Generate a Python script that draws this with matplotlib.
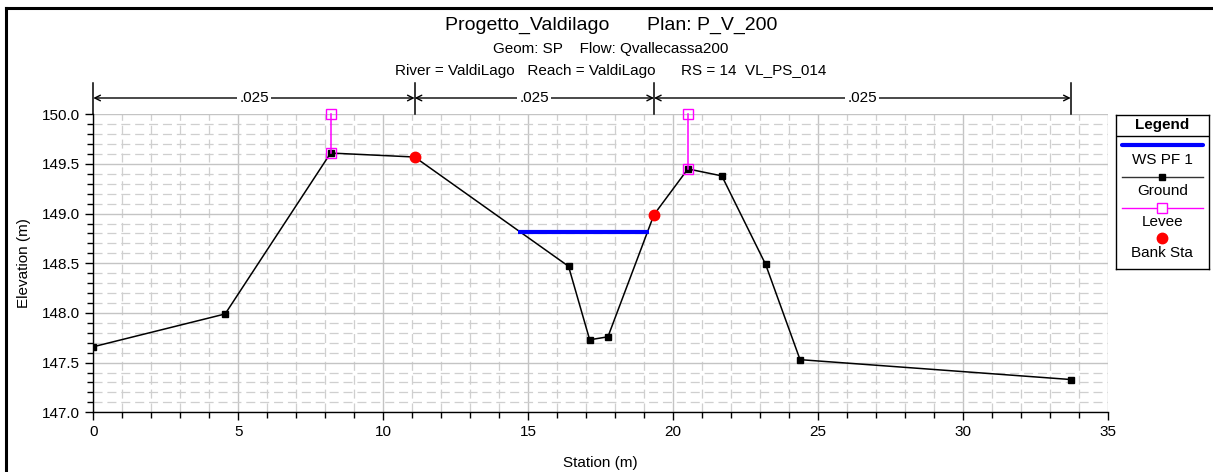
import matplotlib
matplotlib.use("Agg")
import matplotlib.pyplot as plt
from matplotlib.lines import Line2D
from matplotlib.ticker import MultipleLocator, FormatStrFormatter

plt.rcParams['font.family'] = ['Liberation Sans', 'DejaVu Sans']
plt.rcParams['lines.scale_dashes'] = False

# ---------------- data ----------------
ground_station = [0.0, 4.55, 8.19, 11.09, 16.40, 17.13, 17.76, 19.35, 20.52, 21.69, 23.20, 24.39, 33.73]
ground_elev = [147.66, 147.99, 149.61, 149.57, 148.47, 147.73, 147.76, 148.99, 149.45, 149.38, 148.49, 147.53, 147.33]

levee_station = [8.19, 20.52]
levee_bottom = [149.61, 149.45]
levee_top = [150.0, 150.0]

bank_station = [11.09, 19.35]
bank_elev = [149.57, 148.99]

ws_station = [14.66, 19.18]
ws_elev = [148.82, 148.82]

n_bounds = [0.0, 11.09, 19.35, 33.73]
n_values = ['.025', '.025', '.025']

x_ticks = [0, 5, 10, 15, 20, 25, 30, 35]
y_ticks = [147.0, 147.5, 148.0, 148.5, 149.0, 149.5, 150.0]

title1 = "Progetto_Valdilago       Plan: P_V_200"
title2 = "Geom: SP    Flow: Qvallecassa200"
title3 = "River = ValdiLago   Reach = ValdiLago      RS = 14  VL_PS_014"

# ---------------- figure ----------------
W, H = 1213, 472
fig = plt.figure(figsize=(W / 100, H / 100), dpi=100)
fig.patch.set_facecolor('white')

def fx(px):
    return px / W

def fy(py):
    return 1 - py / H

ax_l, ax_r, ax_t, ax_b = 93.3, 1107.5, 114.3, 412.3
ax = fig.add_axes([fx(ax_l), fy(ax_b), fx(ax_r - ax_l), (ax_b - ax_t) / H])
ax.set_xlim(0, 35)
ax.set_ylim(147.0, 150.0)

ax.set_xticks(x_ticks)
ax.set_yticks(y_ticks)
ax.xaxis.set_minor_locator(MultipleLocator(1))
ax.yaxis.set_minor_locator(MultipleLocator(0.1))
ax.yaxis.set_major_formatter(FormatStrFormatter('%.1f'))
ax.tick_params(which='major', direction='out', length=6, width=1, labelsize=11, colors='black')
ax.tick_params(which='minor', direction='out', length=4, width=1)

ax.grid(which='major', color='#c4c4c4', linestyle='-', linewidth=1.0, zorder=0)
ax.grid(which='minor', color='#cfcfcf', linestyle=(0, (6.5, 3.5)), linewidth=0.9, zorder=0)
ax.set_axisbelow(True)

for s in ['top', 'right']:
    ax.spines[s].set_visible(False)
for s in ['left', 'bottom']:
    ax.spines[s].set_linewidth(1.0)

ax.set_xlabel('Station (m)', fontsize=11, labelpad=12)
ax.set_ylabel('Elevation (m)', fontsize=11, labelpad=8)

# ground
ax.plot(ground_station, ground_elev, color='black', lw=1.1, marker='s', ms=5,
        mfc='black', mec='black', zorder=3)
# levees
for st, yb, yt in zip(levee_station, levee_bottom, levee_top):
    ax.plot([st, st], [yb, yt], color='#ff00ff', lw=1.1, marker='s', ms=7,
            mfc='none', mec='#ff00ff', mew=1.0, zorder=4, clip_on=False)
# water surface
ax.plot(ws_station, ws_elev, color='#0000ff', lw=3, solid_capstyle='butt', zorder=5)
# bank stations
ax.plot(bank_station, bank_elev, linestyle='none', marker='o', ms=7.5, mfc='#ff0000',
        mec='#ff0000', zorder=6)

# Manning n annotations
tr = ax.get_xaxis_transform()
y_arrow = (ax_b - 98) / (ax_b - ax_t)
y_vtop = (ax_b - 83) / (ax_b - ax_t)
for xb in n_bounds:
    ax.plot([xb, xb], [1.0, y_vtop], transform=tr, color='black', lw=1.1, clip_on=False)
for i, val in enumerate(n_values):
    x0, x1 = n_bounds[i], n_bounds[i + 1]
    ax.annotate('', xy=(x1, y_arrow), xytext=(x0, y_arrow), xycoords=tr, textcoords=tr,
                arrowprops=dict(arrowstyle='<->', lw=1.0, color='black', shrinkA=0, shrinkB=0,
                                mutation_scale=10), annotation_clip=False)
    ax.text((x0 + x1) / 2, y_arrow, val, transform=tr, ha='center', va='center', fontsize=11,
            bbox=dict(facecolor='white', edgecolor='none', pad=1.5), clip_on=False, zorder=7)

# titles
fig.text(fx(611), fy(25), title1, ha='center', va='center', fontsize=14)
fig.text(fx(611), fy(49), title2, ha='center', va='center', fontsize=11)
fig.text(fx(611), fy(71), title3, ha='center', va='center', fontsize=11)

# outer frame (top and left visible)
fig.add_artist(Line2D([fx(6), 1.0], [fy(8), fy(8)], transform=fig.transFigure, color='black', lw=2.2))
fig.add_artist(Line2D([fx(6), fx(6)], [fy(8), 0.0], transform=fig.transFigure, color='black', lw=2.2))

# legend box
lg_l, lg_r, lg_t, lg_b = 1115.7, 1208.7, 115.0, 269.0
lax = fig.add_axes([fx(lg_l), fy(lg_b), fx(lg_r - lg_l), (lg_b - lg_t) / H])
lax.set_xlim(0, lg_r - lg_l)
lax.set_ylim(lg_b - lg_t, 0)
lax.set_xticks([])
lax.set_yticks([])
for s in lax.spines.values():
    s.set_linewidth(1.0)
    s.set_color('black')
cx = (lg_r - lg_l) / 2
lax.text(cx, 9.5, 'Legend', ha='center', va='center', fontsize=11, fontweight='bold')
lax.plot([0, lg_r - lg_l], [21, 21], color='black', lw=1.0)
lax.plot([6, 87], [30, 30], color='#0000ff', lw=3, solid_capstyle='round')
lax.text(cx, 45, 'WS PF 1', ha='center', va='center', fontsize=11)
lax.plot([6, 87], [62, 62], color='#333333', lw=1.0)
lax.plot([cx], [62], marker='s', ms=5, color='black')
lax.text(cx, 76, 'Ground', ha='center', va='center', fontsize=11)
lax.plot([6, 87], [93, 93], color='#ff00ff', lw=1.0)
lax.plot([cx], [93], marker='s', ms=7, mfc='white', mec='#ff00ff', mew=1.0)
lax.text(cx, 107, 'Levee', ha='center', va='center', fontsize=11)
lax.plot([cx], [123], marker='o', ms=7.5, color='#ff0000')
lax.text(cx, 138, 'Bank Sta', ha='center', va='center', fontsize=11)

fig.savefig('out.png', dpi=100)
